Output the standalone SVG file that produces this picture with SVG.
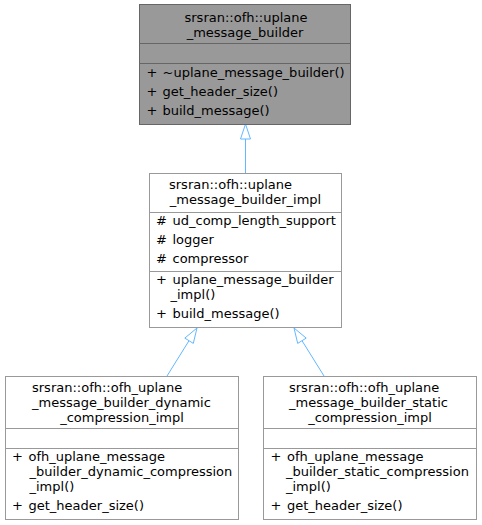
<svg xmlns="http://www.w3.org/2000/svg" width="482" height="525" viewBox="0 0 482 525">
<style>
text{font-family:"DejaVu Sans",sans-serif;font-size:13px;fill:#000}
.c{text-anchor:middle}
.base rect{fill:#999999;stroke:#666666}
.base line{stroke:#666666}
.cls rect{fill:#ffffff;stroke:#999999}
.cls line{stroke:#999999}
.edge line{stroke:#63b8ff;stroke-width:1}
.edge polygon{fill:#ffffff;stroke:#63b8ff}
</style>
<rect x="0" y="0" width="482" height="525" fill="#ffffff"/>
<g id="connectors" class="edge">
<line x1="245.5" y1="174" x2="245.5" y2="139"/>
<polygon points="240.5,139 245.5,124 250.5,139"/>
<line x1="167" y1="376" x2="189" y2="340.7"/>
<polygon points="184.8,338.1 197,328 193.3,343.4"/>
<line x1="324" y1="376" x2="302" y2="340.7"/>
<polygon points="306.2,338.1 294,328 297.7,343.4"/>
</g>
<g id="uplane_message_builder" class="base">
<rect x="139.5" y="4.5" width="211" height="120"/>
<line x1="139.5" y1="43.5" x2="350.5" y2="43.5"/>
<line x1="139.5" y1="63.5" x2="350.5" y2="63.5"/>
<text x="184.5" y="22">srsran::ofh::uplane</text>
<text class="c" x="245" y="37">_message_builder</text>
<text x="146.5" y="77">+</text><text x="162.5" y="77">~uplane_message_builder()</text>
<text x="146.5" y="96">+</text><text x="162.5" y="96">get_header_size()</text>
<text x="146.5" y="115">+</text><text x="162.5" y="115">build_message()</text>
</g>
<g id="uplane_message_builder_impl" class="cls">
<rect x="149.5" y="173.5" width="192" height="154"/>
<line x1="149.5" y1="212.5" x2="341.5" y2="212.5"/>
<line x1="149.5" y1="271.5" x2="341.5" y2="271.5"/>
<text x="169" y="189">srsran::ofh::uplane</text>
<text class="c" x="245.5" y="204">_message_builder_impl</text>
<text x="156" y="225">#</text><text x="172.5" y="225">ud_comp_length_support</text>
<text x="156" y="244">#</text><text x="172.5" y="244">logger</text>
<text x="156" y="263">#</text><text x="172.5" y="263">compressor</text>
<text x="156" y="284">+</text><text x="172.5" y="284">uplane_message_builder</text>
<text x="170.5" y="299">_impl()</text>
<text x="156" y="318">+</text><text x="172.5" y="318">build_message()</text>
</g>
<g id="dynamic_compression_impl" class="cls">
<rect x="5.5" y="376.5" width="233" height="143"/>
<line x1="5.5" y1="428.5" x2="238.5" y2="428.5"/>
<line x1="5.5" y1="448.5" x2="238.5" y2="448.5"/>
<text x="32" y="392">srsran::ofh::ofh_uplane</text>
<text x="32" y="407">_message_builder_dynamic</text>
<text class="c" x="122" y="422">_compression_impl</text>
<text x="12" y="461">+</text><text x="28.5" y="461">ofh_uplane_message</text>
<text x="29.5" y="476">_builder_dynamic_compression</text>
<text x="29.5" y="491">_impl()</text>
<text x="12" y="510">+</text><text x="28.5" y="510">get_header_size()</text>
</g>
<g id="static_compression_impl" class="cls">
<rect x="263.5" y="376.5" width="213" height="143"/>
<line x1="263.5" y1="428.5" x2="476.5" y2="428.5"/>
<line x1="263.5" y1="448.5" x2="476.5" y2="448.5"/>
<text x="289" y="392">srsran::ofh::ofh_uplane</text>
<text x="289" y="407">_message_builder_static</text>
<text class="c" x="370" y="422">_compression_impl</text>
<text x="270.5" y="461">+</text><text x="287" y="461">ofh_uplane_message</text>
<text x="286" y="476">_builder_static_compression</text>
<text x="286" y="491">_impl()</text>
<text x="270.5" y="510">+</text><text x="287" y="510">get_header_size()</text>
</g>
</svg>
